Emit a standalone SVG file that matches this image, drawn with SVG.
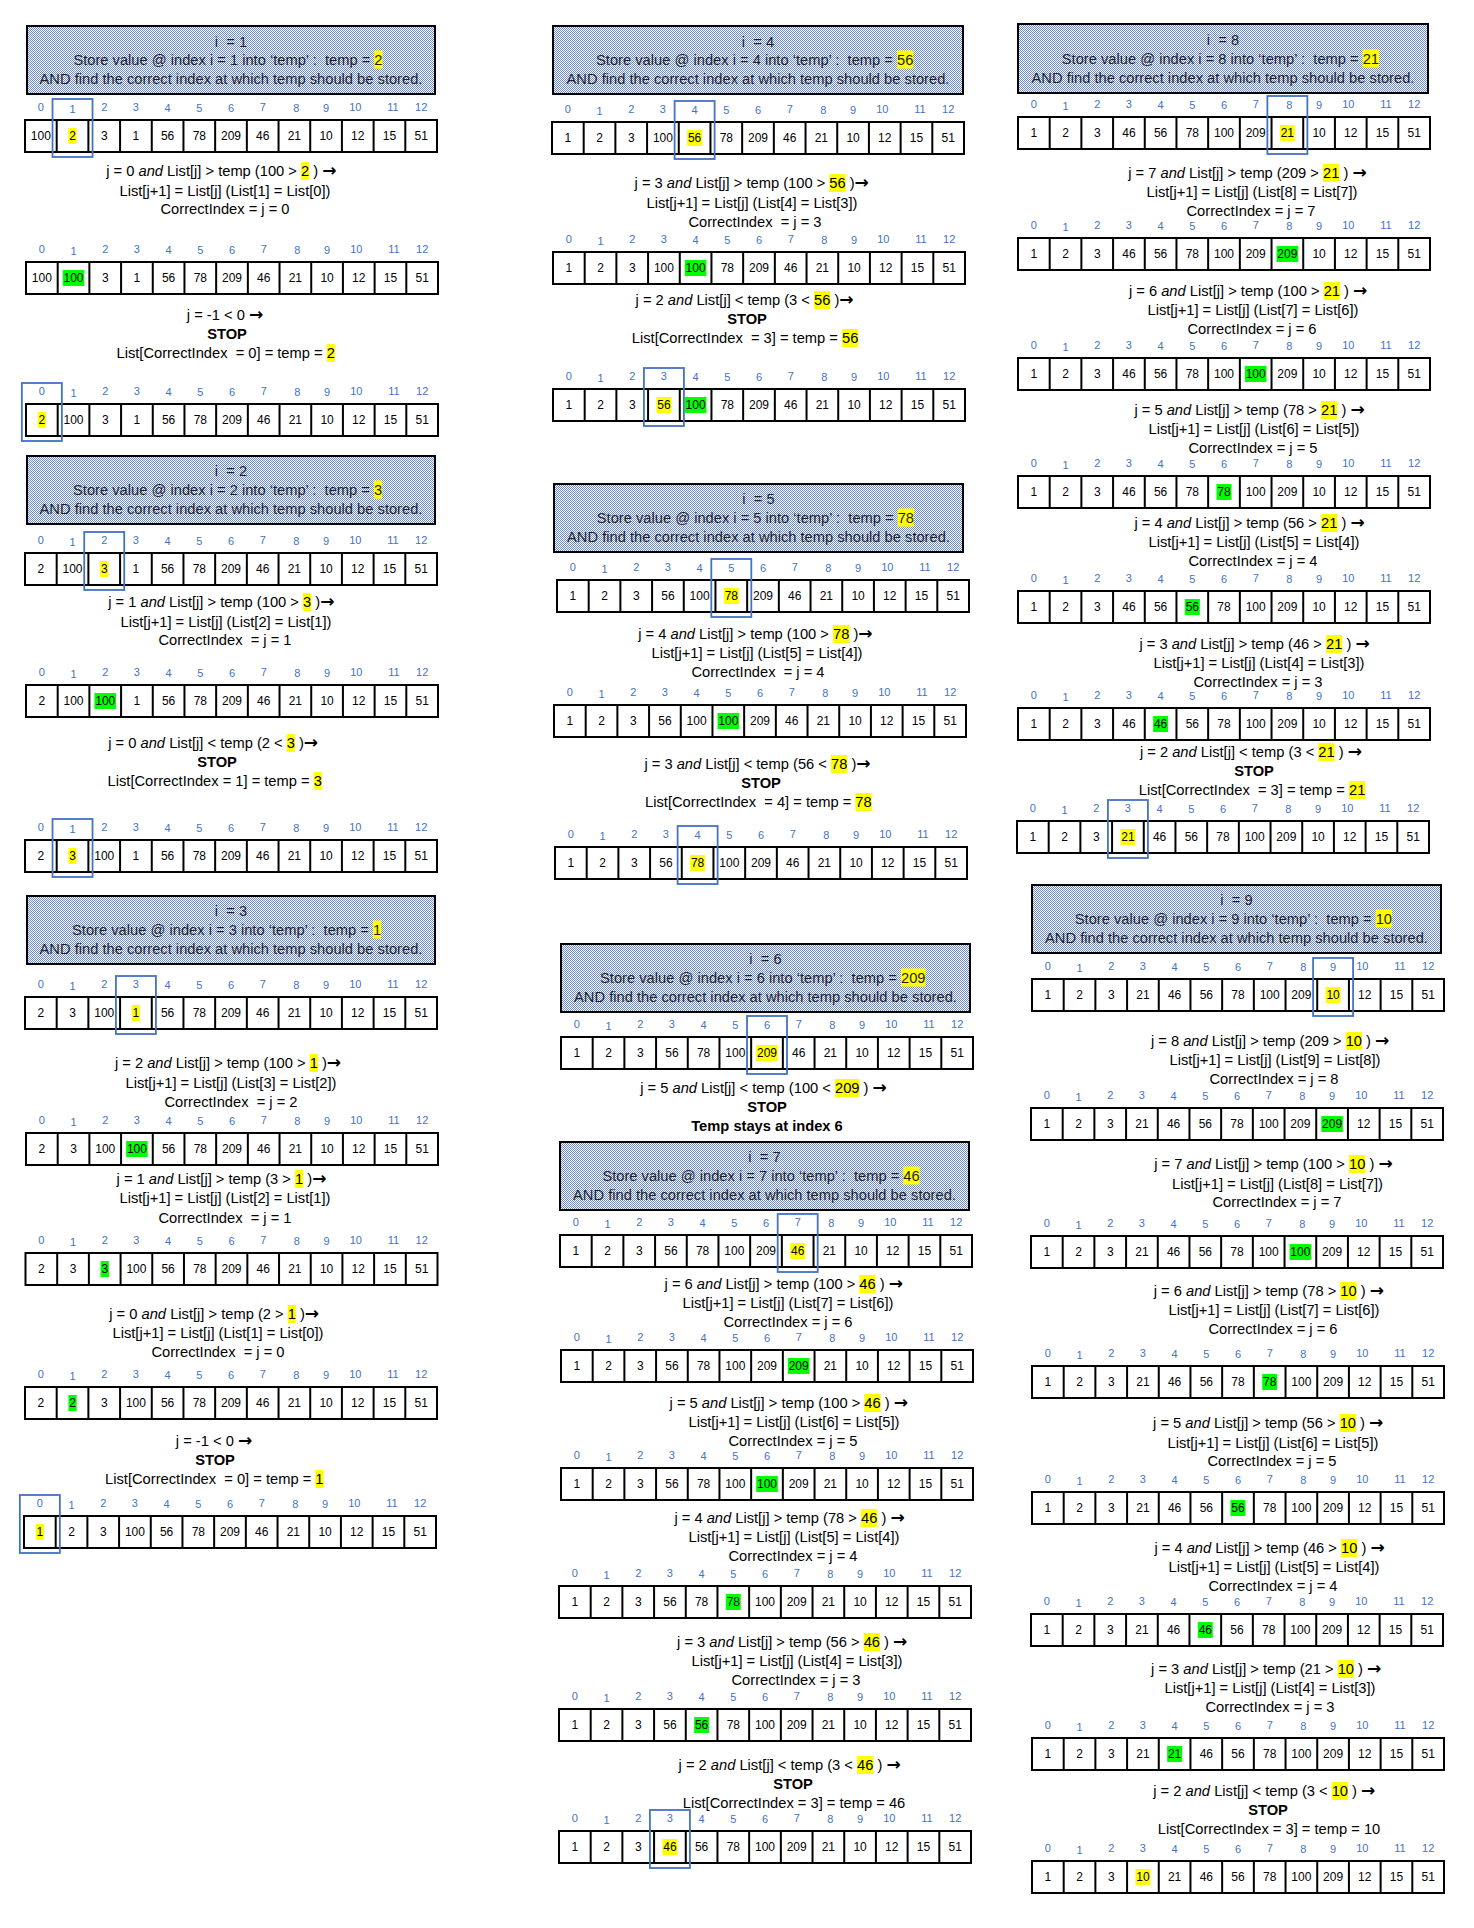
<svg xmlns="http://www.w3.org/2000/svg" width="1474" height="1928" viewBox="0 0 1474 1928">
<style>
.t{font-family:"Liberation Sans",Arial,sans-serif;font-size:14.7px;fill:#000;white-space:pre}
.h{font-family:"Liberation Sans",Arial,sans-serif;font-size:14.7px;fill:#1e1e1e;white-space:pre}
.c{text-anchor:middle}
.e{text-anchor:end}
.b{font-weight:bold}
.i{font-style:italic}
.ar{font-family:"DejaVu Sans",sans-serif;font-weight:bold;font-size:17px}
.v{font-family:"Liberation Sans",Arial,sans-serif;font-size:12px;fill:#000;text-anchor:middle}
.hy{fill:#FFFF00}
.hg{fill:#00FF00}
.box{fill:none;stroke:#4472C4;stroke-width:1.8}
.hdr{fill:url(#dots);stroke:#000;stroke-width:2}
</style>
<defs>
<pattern id="dots" width="2" height="2" patternUnits="userSpaceOnUse"><rect width="2" height="2" fill="#fff"/><rect width="1" height="1" fill="#6A8BD3"/><rect x="1" y="1" width="1" height="1" fill="#6A8BD3"/></pattern>
<g id="grid"><rect width="412" height="32" fill="#fff" stroke="#000" stroke-width="2"/><path d="M31.69 0V32M63.38 0V32M95.08 0V32M126.77 0V32M158.46 0V32M190.15 0V32M221.85 0V32M253.54 0V32M285.23 0V32M316.92 0V32M348.62 0V32M380.31 0V32" stroke="#000" stroke-width="2" fill="none"/></g>
<g id="idx"><text font-family="'Liberation Sans', Arial, sans-serif" font-size="11" fill="#4472C4" text-anchor="middle" y="-9"><tspan x="15.85" y="-9">0</tspan><tspan x="47.54" y="-7.5">1</tspan><tspan x="79.23" y="-9">2</tspan><tspan x="110.92" y="-9">3</tspan><tspan x="142.62" y="-8.5">4</tspan><tspan x="174.31" y="-8.5">5</tspan><tspan x="206" y="-8.5">6</tspan><tspan x="237.69" y="-9">7</tspan><tspan x="271.4" y="-8">8</tspan><tspan x="301.08" y="-8">9</tspan><tspan x="330.3" y="-9.5">10</tspan><tspan x="368" y="-9.5">11</tspan><tspan x="396.15" y="-9">12</tspan></text></g>
</defs>
<rect width="1474" height="1928" fill="#fff"/>
<g id="connectors"/>

<!-- ================= i = 1 ================= -->
<g id="step-i1">
<g id="i1-header"><rect class="hdr" x="27" y="26" width="408" height="68"/>
<text class="h c" x="231" y="46.7">i  = 1</text>
<rect class="hy" x="374.3" y="50.5" width="8.2" height="18"/>
<text class="h e" x="374.3" y="65">Store value @ index i = 1 into ‘temp’ :  temp = </text>
<text class="h" x="374.3" y="65">2</text>
<text class="h c" x="231" y="84">AND find the correct index at which temp should be stored.</text></g>
<g id="i1-r1" transform="translate(25,120)"><use href="#grid"/><use href="#idx"/><rect class="hy" x="43.39" y="8" width="8.3" height="16"/><text class="v" y="20.3"><tspan x="15.85">100</tspan><tspan x="47.54">2</tspan><tspan x="79.23">3</tspan><tspan x="110.92">1</tspan><tspan x="142.62">56</tspan><tspan x="174.31">78</tspan><tspan x="206">209</tspan><tspan x="237.69">46</tspan><tspan x="269.38">21</tspan><tspan x="301.08">10</tspan><tspan x="332.77">12</tspan><tspan x="364.46">15</tspan><tspan x="396.15">51</tspan></text><rect class="box" x="27.54" y="-21" width="40" height="58"/></g>
<rect class="hy" x="301" y="162" width="8.2" height="18"/>
<text class="t e" x="301" y="176">j = 0 <tspan class="i">and</tspan> List[j] &gt; temp (100 &gt; </text>
<text class="t" x="301" y="176">2 ) <tspan class="ar">→</tspan></text>
<text class="t c" x="225" y="196">List[j+1] = List[j] (List[1] = List[0])</text>
<text class="t c" x="225" y="214">CorrectIndex = j = 0</text>
<g id="i1-r2" transform="translate(26,262)"><use href="#grid"/><use href="#idx"/><rect class="hg" x="36.74" y="8" width="21.6" height="16"/><text class="v" y="20.3"><tspan x="15.85">100</tspan><tspan x="47.54">100</tspan><tspan x="79.23">3</tspan><tspan x="110.92">1</tspan><tspan x="142.62">56</tspan><tspan x="174.31">78</tspan><tspan x="206">209</tspan><tspan x="237.69">46</tspan><tspan x="269.38">21</tspan><tspan x="301.08">10</tspan><tspan x="332.77">12</tspan><tspan x="364.46">15</tspan><tspan x="396.15">51</tspan></text></g>
<text class="t c" x="225" y="320">j = -1 &lt; 0 <tspan class="ar">→</tspan></text>
<text class="t c b" x="227" y="339">STOP</text>
<rect class="hy" x="326.7" y="344" width="8.2" height="18"/>
<text class="t e" x="326.7" y="358">List[CorrectIndex  = 0] = temp = </text>
<text class="t" x="326.7" y="358">2</text>
<g id="i1-r3" transform="translate(26,404)"><use href="#grid"/><use href="#idx"/><rect class="hy" x="11.7" y="8" width="8.3" height="16"/><text class="v" y="20.3"><tspan x="15.85">2</tspan><tspan x="47.54">100</tspan><tspan x="79.23">3</tspan><tspan x="110.92">1</tspan><tspan x="142.62">56</tspan><tspan x="174.31">78</tspan><tspan x="206">209</tspan><tspan x="237.69">46</tspan><tspan x="269.38">21</tspan><tspan x="301.08">10</tspan><tspan x="332.77">12</tspan><tspan x="364.46">15</tspan><tspan x="396.15">51</tspan></text><rect class="box" x="-4.15" y="-21" width="40" height="58"/></g>
</g>

<!-- ================= i = 2 ================= -->
<g id="step-i2">
<g id="i2-header"><rect class="hdr" x="27" y="456" width="408" height="68"/>
<text class="h c" x="231" y="476">i  = 2</text>
<rect class="hy" x="374" y="480.5" width="8.2" height="18"/>
<text class="h e" x="374" y="495">Store value @ index i = 2 into ‘temp’ :  temp = </text>
<text class="h" x="374" y="495">3</text>
<text class="h c" x="231" y="514">AND find the correct index at which temp should be stored.</text></g>
<g id="i2-r1" transform="translate(25,553)"><use href="#grid"/><use href="#idx"/><rect class="hy" x="75.08" y="8" width="8.3" height="16"/><text class="v" y="20.3"><tspan x="15.85">2</tspan><tspan x="47.54">100</tspan><tspan x="79.23">3</tspan><tspan x="110.92">1</tspan><tspan x="142.62">56</tspan><tspan x="174.31">78</tspan><tspan x="206">209</tspan><tspan x="237.69">46</tspan><tspan x="269.38">21</tspan><tspan x="301.08">10</tspan><tspan x="332.77">12</tspan><tspan x="364.46">15</tspan><tspan x="396.15">51</tspan></text><rect class="box" x="59.23" y="-21" width="40" height="58"/></g>
<rect class="hy" x="303" y="593" width="8.2" height="18"/>
<text class="t e" x="303" y="607">j = 1 <tspan class="i">and</tspan> List[j] &gt; temp (100 &gt; </text>
<text class="t" x="303" y="607">3 )<tspan class="ar">→</tspan></text>
<text class="t c" x="226" y="627">List[j+1] = List[j] (List[2] = List[1])</text>
<text class="t c" x="225" y="645">CorrectIndex  = j = 1</text>
<g id="i2-r2" transform="translate(26,685)"><use href="#grid"/><use href="#idx"/><rect class="hg" x="68.43" y="8" width="21.6" height="16"/><text class="v" y="20.3"><tspan x="15.85">2</tspan><tspan x="47.54">100</tspan><tspan x="79.23">100</tspan><tspan x="110.92">1</tspan><tspan x="142.62">56</tspan><tspan x="174.31">78</tspan><tspan x="206">209</tspan><tspan x="237.69">46</tspan><tspan x="269.38">21</tspan><tspan x="301.08">10</tspan><tspan x="332.77">12</tspan><tspan x="364.46">15</tspan><tspan x="396.15">51</tspan></text></g>
<rect class="hy" x="286.7" y="734" width="8.2" height="18"/>
<text class="t e" x="286.7" y="748">j = 0 <tspan class="i">and</tspan> List[j] &lt; temp (2 &lt; </text>
<text class="t" x="286.7" y="748">3 )<tspan class="ar">→</tspan></text>
<text class="t c b" x="217" y="767">STOP</text>
<rect class="hy" x="313.7" y="772" width="8.2" height="18"/>
<text class="t e" x="313.7" y="786">List[CorrectIndex = 1] = temp = </text>
<text class="t" x="313.7" y="786">3</text>
<g id="i2-r3" transform="translate(25,840)"><use href="#grid"/><use href="#idx"/><rect class="hy" x="43.39" y="8" width="8.3" height="16"/><text class="v" y="20.3"><tspan x="15.85">2</tspan><tspan x="47.54">3</tspan><tspan x="79.23">100</tspan><tspan x="110.92">1</tspan><tspan x="142.62">56</tspan><tspan x="174.31">78</tspan><tspan x="206">209</tspan><tspan x="237.69">46</tspan><tspan x="269.38">21</tspan><tspan x="301.08">10</tspan><tspan x="332.77">12</tspan><tspan x="364.46">15</tspan><tspan x="396.15">51</tspan></text><rect class="box" x="27.54" y="-21" width="40" height="58"/></g>
</g>

<!-- ================= i = 3 ================= -->
<g id="step-i3">
<g id="i3-header"><rect class="hdr" x="27" y="896" width="408" height="68"/>
<text class="h c" x="231" y="916">i  = 3</text>
<rect class="hy" x="373" y="920.5" width="8.2" height="18"/>
<text class="h e" x="373" y="935">Store value @ index i = 3 into ‘temp’ :  temp = </text>
<text class="h" x="373" y="935">1</text>
<text class="h c" x="231" y="954">AND find the correct index at which temp should be stored.</text></g>
<g id="i3-r1" transform="translate(25,997)"><use href="#grid"/><use href="#idx"/><rect class="hy" x="106.77" y="8" width="8.3" height="16"/><text class="v" y="20.3"><tspan x="15.85">2</tspan><tspan x="47.54">3</tspan><tspan x="79.23">100</tspan><tspan x="110.92">1</tspan><tspan x="142.62">56</tspan><tspan x="174.31">78</tspan><tspan x="206">209</tspan><tspan x="237.69">46</tspan><tspan x="269.38">21</tspan><tspan x="301.08">10</tspan><tspan x="332.77">12</tspan><tspan x="364.46">15</tspan><tspan x="396.15">51</tspan></text><rect class="box" x="90.92" y="-21" width="40" height="58"/></g>
<rect class="hy" x="309.7" y="1054" width="8.2" height="18"/>
<text class="t e" x="309.7" y="1068">j = 2 <tspan class="i">and</tspan> List[j] &gt; temp (100 &gt; </text>
<text class="t" x="309.7" y="1068">1 )<tspan class="ar">→</tspan></text>
<text class="t c" x="231" y="1088">List[j+1] = List[j] (List[3] = List[2])</text>
<text class="t c" x="231" y="1107">CorrectIndex  = j = 2</text>
<g id="i3-r2" transform="translate(26,1133)"><use href="#grid"/><use href="#idx"/><rect class="hg" x="100.12" y="8" width="21.6" height="16"/><text class="v" y="20.3"><tspan x="15.85">2</tspan><tspan x="47.54">3</tspan><tspan x="79.23">100</tspan><tspan x="110.92">100</tspan><tspan x="142.62">56</tspan><tspan x="174.31">78</tspan><tspan x="206">209</tspan><tspan x="237.69">46</tspan><tspan x="269.38">21</tspan><tspan x="301.08">10</tspan><tspan x="332.77">12</tspan><tspan x="364.46">15</tspan><tspan x="396.15">51</tspan></text></g>
<rect class="hy" x="295" y="1170" width="8.2" height="18"/>
<text class="t e" x="295" y="1184">j = 1 <tspan class="i">and</tspan> List[j] &gt; temp (3 &gt; </text>
<text class="t" x="295" y="1184">1 )<tspan class="ar">→</tspan></text>
<text class="t c" x="225" y="1203">List[j+1] = List[j] (List[2] = List[1])</text>
<text class="t c" x="225" y="1223">CorrectIndex  = j = 1</text>
<g id="i3-r3" transform="translate(25.5,1253)"><use href="#grid"/><use href="#idx"/><rect class="hg" x="75.08" y="8" width="8.3" height="16"/><text class="v" y="20.3"><tspan x="15.85">2</tspan><tspan x="47.54">3</tspan><tspan x="79.23">3</tspan><tspan x="110.92">100</tspan><tspan x="142.62">56</tspan><tspan x="174.31">78</tspan><tspan x="206">209</tspan><tspan x="237.69">46</tspan><tspan x="269.38">21</tspan><tspan x="301.08">10</tspan><tspan x="332.77">12</tspan><tspan x="364.46">15</tspan><tspan x="396.15">51</tspan></text></g>
<rect class="hy" x="287.7" y="1305" width="8.2" height="18"/>
<text class="t e" x="287.7" y="1319">j = 0 <tspan class="i">and</tspan> List[j] &gt; temp (2 &gt; </text>
<text class="t" x="287.7" y="1319">1 )<tspan class="ar">→</tspan></text>
<text class="t c" x="218" y="1338">List[j+1] = List[j] (List[1] = List[0])</text>
<text class="t c" x="218" y="1357">CorrectIndex  = j = 0</text>
<g id="i3-r4" transform="translate(25,1387)"><use href="#grid"/><use href="#idx"/><rect class="hg" x="43.39" y="8" width="8.3" height="16"/><text class="v" y="20.3"><tspan x="15.85">2</tspan><tspan x="47.54">2</tspan><tspan x="79.23">3</tspan><tspan x="110.92">100</tspan><tspan x="142.62">56</tspan><tspan x="174.31">78</tspan><tspan x="206">209</tspan><tspan x="237.69">46</tspan><tspan x="269.38">21</tspan><tspan x="301.08">10</tspan><tspan x="332.77">12</tspan><tspan x="364.46">15</tspan><tspan x="396.15">51</tspan></text></g>
<text class="t c" x="214" y="1446">j = -1 &lt; 0 <tspan class="ar">→</tspan></text>
<text class="t c b" x="215" y="1465">STOP</text>
<rect class="hy" x="315.3" y="1470" width="8.2" height="18"/>
<text class="t e" x="315.3" y="1484">List[CorrectIndex  = 0] = temp = </text>
<text class="t" x="315.3" y="1484">1</text>
<g id="i3-r5" transform="translate(24,1516)"><use href="#grid"/><use href="#idx"/><rect class="hy" x="11.7" y="8" width="8.3" height="16"/><text class="v" y="20.3"><tspan x="15.85">1</tspan><tspan x="47.54">2</tspan><tspan x="79.23">3</tspan><tspan x="110.92">100</tspan><tspan x="142.62">56</tspan><tspan x="174.31">78</tspan><tspan x="206">209</tspan><tspan x="237.69">46</tspan><tspan x="269.38">21</tspan><tspan x="301.08">10</tspan><tspan x="332.77">12</tspan><tspan x="364.46">15</tspan><tspan x="396.15">51</tspan></text><rect class="box" x="-4.15" y="-21" width="40" height="58"/></g>
</g>

<!-- ================= i = 4 ================= -->
<g id="step-i4">
<g id="i4-header"><rect class="hdr" x="553" y="26" width="410" height="68"/>
<text class="h c" x="758" y="46.7">i  = 4</text>
<rect class="hy" x="897" y="50.5" width="16.3" height="18"/>
<text class="h e" x="897" y="65">Store value @ index i = 4 into ‘temp’ :  temp = </text>
<text class="h" x="897" y="65">56</text>
<text class="h c" x="758" y="84">AND find the correct index at which temp should be stored.</text></g>
<g id="i4-r1" transform="translate(552,122)"><use href="#grid"/><use href="#idx"/><rect class="hy" x="135.12" y="8" width="15" height="16"/><text class="v" y="20.3"><tspan x="15.85">1</tspan><tspan x="47.54">2</tspan><tspan x="79.23">3</tspan><tspan x="110.92">100</tspan><tspan x="142.62">56</tspan><tspan x="174.31">78</tspan><tspan x="206">209</tspan><tspan x="237.69">46</tspan><tspan x="269.38">21</tspan><tspan x="301.08">10</tspan><tspan x="332.77">12</tspan><tspan x="364.46">15</tspan><tspan x="396.15">51</tspan></text><rect class="box" x="122.62" y="-21" width="40" height="58"/></g>
<rect class="hy" x="829.3" y="174" width="16.3" height="18"/>
<text class="t e" x="829.3" y="188">j = 3 <tspan class="i">and</tspan> List[j] &gt; temp (100 &gt; </text>
<text class="t" x="829.3" y="188">56 )<tspan class="ar">→</tspan></text>
<text class="t c" x="752" y="208">List[j+1] = List[j] (List[4] = List[3])</text>
<text class="t c" x="755" y="227">CorrectIndex  = j = 3</text>
<g id="i4-r2" transform="translate(553,252)"><use href="#grid"/><use href="#idx"/><rect class="hg" x="131.82" y="8" width="21.6" height="16"/><text class="v" y="20.3"><tspan x="15.85">1</tspan><tspan x="47.54">2</tspan><tspan x="79.23">3</tspan><tspan x="110.92">100</tspan><tspan x="142.62">100</tspan><tspan x="174.31">78</tspan><tspan x="206">209</tspan><tspan x="237.69">46</tspan><tspan x="269.38">21</tspan><tspan x="301.08">10</tspan><tspan x="332.77">12</tspan><tspan x="364.46">15</tspan><tspan x="396.15">51</tspan></text></g>
<rect class="hy" x="814" y="291" width="16.3" height="18"/>
<text class="t e" x="814" y="305">j = 2 <tspan class="i">and</tspan> List[j] &lt; temp (3 &lt; </text>
<text class="t" x="814" y="305">56 )<tspan class="ar">→</tspan></text>
<text class="t c b" x="747" y="324">STOP</text>
<rect class="hy" x="842" y="329" width="16.3" height="18"/>
<text class="t e" x="842" y="343">List[CorrectIndex  = 3] = temp = </text>
<text class="t" x="842" y="343">56</text>
<g id="i4-r3" transform="translate(553,389)"><use href="#grid"/><use href="#idx"/><rect class="hy" x="103.42" y="8" width="15" height="16"/><rect class="hg" x="131.82" y="8" width="21.6" height="16"/><text class="v" y="20.3"><tspan x="15.85">1</tspan><tspan x="47.54">2</tspan><tspan x="79.23">3</tspan><tspan x="110.92">56</tspan><tspan x="142.62">100</tspan><tspan x="174.31">78</tspan><tspan x="206">209</tspan><tspan x="237.69">46</tspan><tspan x="269.38">21</tspan><tspan x="301.08">10</tspan><tspan x="332.77">12</tspan><tspan x="364.46">15</tspan><tspan x="396.15">51</tspan></text><rect class="box" x="90.92" y="-21" width="40" height="58"/></g>
</g>

<!-- ================= i = 5 ================= -->
<g id="step-i5">
<g id="i5-header"><rect class="hdr" x="554" y="484" width="409" height="68"/>
<text class="h c" x="758.5" y="504">i  = 5</text>
<rect class="hy" x="897.7" y="508.5" width="16.3" height="18"/>
<text class="h e" x="897.7" y="523">Store value @ index i = 5 into ‘temp’ :  temp = </text>
<text class="h" x="897.7" y="523">78</text>
<text class="h c" x="758.5" y="542">AND find the correct index at which temp should be stored.</text></g>
<g id="i5-r1" transform="translate(557,580)"><use href="#grid"/><use href="#idx"/><rect class="hy" x="166.81" y="8" width="15" height="16"/><text class="v" y="20.3"><tspan x="15.85">1</tspan><tspan x="47.54">2</tspan><tspan x="79.23">3</tspan><tspan x="110.92">56</tspan><tspan x="142.62">100</tspan><tspan x="174.31">78</tspan><tspan x="206">209</tspan><tspan x="237.69">46</tspan><tspan x="269.38">21</tspan><tspan x="301.08">10</tspan><tspan x="332.77">12</tspan><tspan x="364.46">15</tspan><tspan x="396.15">51</tspan></text><rect class="box" x="154.31" y="-21" width="40" height="58"/></g>
<rect class="hy" x="833" y="625" width="16.3" height="18"/>
<text class="t e" x="833" y="639">j = 4 <tspan class="i">and</tspan> List[j] &gt; temp (100 &gt; </text>
<text class="t" x="833" y="639">78 )<tspan class="ar">→</tspan></text>
<text class="t c" x="757" y="658">List[j+1] = List[j] (List[5] = List[4])</text>
<text class="t c" x="758" y="677">CorrectIndex  = j = 4</text>
<g id="i5-r2" transform="translate(554,705)"><use href="#grid"/><use href="#idx"/><rect class="hg" x="163.51" y="8" width="21.6" height="16"/><text class="v" y="20.3"><tspan x="15.85">1</tspan><tspan x="47.54">2</tspan><tspan x="79.23">3</tspan><tspan x="110.92">56</tspan><tspan x="142.62">100</tspan><tspan x="174.31">100</tspan><tspan x="206">209</tspan><tspan x="237.69">46</tspan><tspan x="269.38">21</tspan><tspan x="301.08">10</tspan><tspan x="332.77">12</tspan><tspan x="364.46">15</tspan><tspan x="396.15">51</tspan></text></g>
<rect class="hy" x="831" y="755" width="16.3" height="18"/>
<text class="t e" x="831" y="769">j = 3 <tspan class="i">and</tspan> List[j] &lt; temp (56 &lt; </text>
<text class="t" x="831" y="769">78 )<tspan class="ar">→</tspan></text>
<text class="t c b" x="761" y="788">STOP</text>
<rect class="hy" x="855.3" y="793" width="16.3" height="18"/>
<text class="t e" x="855.3" y="807">List[CorrectIndex  = 4] = temp = </text>
<text class="t" x="855.3" y="807">78</text>
<g id="i5-r3" transform="translate(555,847)"><use href="#grid"/><use href="#idx"/><rect class="hy" x="135.12" y="8" width="15" height="16"/><text class="v" y="20.3"><tspan x="15.85">1</tspan><tspan x="47.54">2</tspan><tspan x="79.23">3</tspan><tspan x="110.92">56</tspan><tspan x="142.62">78</tspan><tspan x="174.31">100</tspan><tspan x="206">209</tspan><tspan x="237.69">46</tspan><tspan x="269.38">21</tspan><tspan x="301.08">10</tspan><tspan x="332.77">12</tspan><tspan x="364.46">15</tspan><tspan x="396.15">51</tspan></text><rect class="box" x="122.62" y="-21" width="40" height="58"/></g>
</g>

<!-- ================= i = 6 ================= -->
<g id="step-i6">
<g id="i6-header"><rect class="hdr" x="561" y="944" width="409" height="68"/>
<text class="h c" x="765.5" y="964">i  = 6</text>
<rect class="hy" x="901" y="968.5" width="24.5" height="18"/>
<text class="h e" x="901" y="983">Store value @ index i = 6 into ‘temp’ :  temp = </text>
<text class="h" x="901" y="983">209</text>
<text class="h c" x="765.5" y="1002">AND find the correct index at which temp should be stored.</text></g>
<g id="i6-r1" transform="translate(561,1037)"><use href="#grid"/><use href="#idx"/><rect class="hy" x="195.2" y="8" width="21.6" height="16"/><text class="v" y="20.3"><tspan x="15.85">1</tspan><tspan x="47.54">2</tspan><tspan x="79.23">3</tspan><tspan x="110.92">56</tspan><tspan x="142.62">78</tspan><tspan x="174.31">100</tspan><tspan x="206">209</tspan><tspan x="237.69">46</tspan><tspan x="269.38">21</tspan><tspan x="301.08">10</tspan><tspan x="332.77">12</tspan><tspan x="364.46">15</tspan><tspan x="396.15">51</tspan></text><rect class="box" x="186" y="-21" width="40" height="58"/></g>
<rect class="hy" x="835" y="1079" width="24.5" height="18"/>
<text class="t e" x="835" y="1093">j = 5 <tspan class="i">and</tspan> List[j] &lt; temp (100 &lt; </text>
<text class="t" x="835" y="1093">209 ) <tspan class="ar">→</tspan></text>
<text class="t c b" x="767" y="1112">STOP</text>
<text class="t c b" x="767" y="1131">Temp stays at index 6</text>
</g>

<!-- ================= i = 7 ================= -->
<g id="step-i7">
<g id="i7-header"><rect class="hdr" x="560" y="1142" width="409" height="68"/>
<text class="h c" x="764.5" y="1162">i  = 7</text>
<rect class="hy" x="903.3" y="1166.5" width="16.3" height="18"/>
<text class="h e" x="903.3" y="1181">Store value @ index i = 7 into ‘temp’ :  temp = </text>
<text class="h" x="903.3" y="1181">46</text>
<text class="h c" x="764.5" y="1200">AND find the correct index at which temp should be stored.</text></g>
<g id="i7-r1" transform="translate(560,1235)"><use href="#grid"/><use href="#idx"/><rect class="hy" x="230.19" y="8" width="15" height="16"/><text class="v" y="20.3"><tspan x="15.85">1</tspan><tspan x="47.54">2</tspan><tspan x="79.23">3</tspan><tspan x="110.92">56</tspan><tspan x="142.62">78</tspan><tspan x="174.31">100</tspan><tspan x="206">209</tspan><tspan x="237.69">46</tspan><tspan x="269.38">21</tspan><tspan x="301.08">10</tspan><tspan x="332.77">12</tspan><tspan x="364.46">15</tspan><tspan x="396.15">51</tspan></text><rect class="box" x="217.69" y="-21" width="40" height="58"/></g>
<rect class="hy" x="859.3" y="1275" width="16.3" height="18"/>
<text class="t e" x="859.3" y="1289">j = 6 <tspan class="i">and</tspan> List[j] &gt; temp (100 &gt; </text>
<text class="t" x="859.3" y="1289">46 ) <tspan class="ar">→</tspan></text>
<text class="t c" x="788" y="1308">List[j+1] = List[j] (List[7] = List[6])</text>
<text class="t c" x="788" y="1327">CorrectIndex = j = 6</text>
<g id="i7-r2" transform="translate(561,1350)"><use href="#grid"/><use href="#idx"/><rect class="hg" x="226.89" y="8" width="21.6" height="16"/><text class="v" y="20.3"><tspan x="15.85">1</tspan><tspan x="47.54">2</tspan><tspan x="79.23">3</tspan><tspan x="110.92">56</tspan><tspan x="142.62">78</tspan><tspan x="174.31">100</tspan><tspan x="206">209</tspan><tspan x="237.69">209</tspan><tspan x="269.38">21</tspan><tspan x="301.08">10</tspan><tspan x="332.77">12</tspan><tspan x="364.46">15</tspan><tspan x="396.15">51</tspan></text></g>
<rect class="hy" x="864.3" y="1394" width="16.3" height="18"/>
<text class="t e" x="864.3" y="1408">j = 5 <tspan class="i">and</tspan> List[j] &gt; temp (100 &gt; </text>
<text class="t" x="864.3" y="1408">46 ) <tspan class="ar">→</tspan></text>
<text class="t c" x="794" y="1427">List[j+1] = List[j] (List[6] = List[5])</text>
<text class="t c" x="793" y="1446">CorrectIndex = j = 5</text>
<g id="i7-r3" transform="translate(561,1468)"><use href="#grid"/><use href="#idx"/><rect class="hg" x="195.2" y="8" width="21.6" height="16"/><text class="v" y="20.3"><tspan x="15.85">1</tspan><tspan x="47.54">2</tspan><tspan x="79.23">3</tspan><tspan x="110.92">56</tspan><tspan x="142.62">78</tspan><tspan x="174.31">100</tspan><tspan x="206">100</tspan><tspan x="237.69">209</tspan><tspan x="269.38">21</tspan><tspan x="301.08">10</tspan><tspan x="332.77">12</tspan><tspan x="364.46">15</tspan><tspan x="396.15">51</tspan></text></g>
<rect class="hy" x="861" y="1509" width="16.3" height="18"/>
<text class="t e" x="861" y="1523">j = 4 <tspan class="i">and</tspan> List[j] &gt; temp (78 &gt; </text>
<text class="t" x="861" y="1523">46 ) <tspan class="ar">→</tspan></text>
<text class="t c" x="794" y="1542">List[j+1] = List[j] (List[5] = List[4])</text>
<text class="t c" x="793" y="1561">CorrectIndex = j = 4</text>
<g id="i7-r4" transform="translate(559,1586)"><use href="#grid"/><use href="#idx"/><rect class="hg" x="166.81" y="8" width="15" height="16"/><text class="v" y="20.3"><tspan x="15.85">1</tspan><tspan x="47.54">2</tspan><tspan x="79.23">3</tspan><tspan x="110.92">56</tspan><tspan x="142.62">78</tspan><tspan x="174.31">78</tspan><tspan x="206">100</tspan><tspan x="237.69">209</tspan><tspan x="269.38">21</tspan><tspan x="301.08">10</tspan><tspan x="332.77">12</tspan><tspan x="364.46">15</tspan><tspan x="396.15">51</tspan></text></g>
<rect class="hy" x="863.7" y="1633" width="16.3" height="18"/>
<text class="t e" x="863.7" y="1647">j = 3 <tspan class="i">and</tspan> List[j] &gt; temp (56 &gt; </text>
<text class="t" x="863.7" y="1647">46 ) <tspan class="ar">→</tspan></text>
<text class="t c" x="797" y="1666">List[j+1] = List[j] (List[4] = List[3])</text>
<text class="t c" x="796" y="1685">CorrectIndex = j = 3</text>
<g id="i7-r5" transform="translate(559,1709)"><use href="#grid"/><use href="#idx"/><rect class="hg" x="135.12" y="8" width="15" height="16"/><text class="v" y="20.3"><tspan x="15.85">1</tspan><tspan x="47.54">2</tspan><tspan x="79.23">3</tspan><tspan x="110.92">56</tspan><tspan x="142.62">56</tspan><tspan x="174.31">78</tspan><tspan x="206">100</tspan><tspan x="237.69">209</tspan><tspan x="269.38">21</tspan><tspan x="301.08">10</tspan><tspan x="332.77">12</tspan><tspan x="364.46">15</tspan><tspan x="396.15">51</tspan></text></g>
<rect class="hy" x="857" y="1756" width="16.3" height="18"/>
<text class="t e" x="857" y="1770">j = 2 <tspan class="i">and</tspan> List[j] &lt; temp (3 &lt; </text>
<text class="t" x="857" y="1770">46 ) <tspan class="ar">→</tspan></text>
<text class="t c b" x="793" y="1789">STOP</text>
<text class="t c" x="794" y="1808">List[CorrectIndex = 3] = temp = 46</text>
<g id="i7-r6" transform="translate(559,1831)"><use href="#grid"/><use href="#idx"/><rect class="hy" x="103.42" y="8" width="15" height="16"/><text class="v" y="20.3"><tspan x="15.85">1</tspan><tspan x="47.54">2</tspan><tspan x="79.23">3</tspan><tspan x="110.92">46</tspan><tspan x="142.62">56</tspan><tspan x="174.31">78</tspan><tspan x="206">100</tspan><tspan x="237.69">209</tspan><tspan x="269.38">21</tspan><tspan x="301.08">10</tspan><tspan x="332.77">12</tspan><tspan x="364.46">15</tspan><tspan x="396.15">51</tspan></text><rect class="box" x="90.92" y="-21" width="40" height="58"/></g>
</g>

<!-- ================= i = 8 ================= -->
<g id="step-i8">
<g id="i8-header"><rect class="hdr" x="1018" y="24" width="410" height="69"/>
<text class="h c" x="1223" y="45">i  = 8</text>
<rect class="hy" x="1362.7" y="49.5" width="16.3" height="18"/>
<text class="h e" x="1362.7" y="64">Store value @ index i = 8 into ‘temp’ :  temp = </text>
<text class="h" x="1362.7" y="64">21</text>
<text class="h c" x="1223" y="83">AND find the correct index at which temp should be stored.</text></g>
<g id="i8-r1" transform="translate(1018,117)"><use href="#grid"/><use href="#idx"/><rect class="hy" x="261.88" y="8" width="15" height="16"/><text class="v" y="20.3"><tspan x="15.85">1</tspan><tspan x="47.54">2</tspan><tspan x="79.23">3</tspan><tspan x="110.92">46</tspan><tspan x="142.62">56</tspan><tspan x="174.31">78</tspan><tspan x="206">100</tspan><tspan x="237.69">209</tspan><tspan x="269.38">21</tspan><tspan x="301.08">10</tspan><tspan x="332.77">12</tspan><tspan x="364.46">15</tspan><tspan x="396.15">51</tspan></text><rect class="box" x="249.38" y="-21" width="40" height="58"/></g>
<rect class="hy" x="1323" y="164" width="16.3" height="18"/>
<text class="t e" x="1323" y="178">j = 7 <tspan class="i">and</tspan> List[j] &gt; temp (209 &gt; </text>
<text class="t" x="1323" y="178">21 ) <tspan class="ar">→</tspan></text>
<text class="t c" x="1252" y="197">List[j+1] = List[j] (List[8] = List[7])</text>
<text class="t c" x="1251" y="216">CorrectIndex = j = 7</text>
<g id="i8-r2" transform="translate(1018,238)"><use href="#grid"/><use href="#idx"/><rect class="hg" x="258.58" y="8" width="21.6" height="16"/><text class="v" y="20.3"><tspan x="15.85">1</tspan><tspan x="47.54">2</tspan><tspan x="79.23">3</tspan><tspan x="110.92">46</tspan><tspan x="142.62">56</tspan><tspan x="174.31">78</tspan><tspan x="206">100</tspan><tspan x="237.69">209</tspan><tspan x="269.38">209</tspan><tspan x="301.08">10</tspan><tspan x="332.77">12</tspan><tspan x="364.46">15</tspan><tspan x="396.15">51</tspan></text></g>
<rect class="hy" x="1323.7" y="282" width="16.3" height="18"/>
<text class="t e" x="1323.7" y="296">j = 6 <tspan class="i">and</tspan> List[j] &gt; temp (100 &gt; </text>
<text class="t" x="1323.7" y="296">21 ) <tspan class="ar">→</tspan></text>
<text class="t c" x="1253" y="315">List[j+1] = List[j] (List[7] = List[6])</text>
<text class="t c" x="1252" y="334">CorrectIndex = j = 6</text>
<g id="i8-r3" transform="translate(1018,358)"><use href="#grid"/><use href="#idx"/><rect class="hg" x="226.89" y="8" width="21.6" height="16"/><text class="v" y="20.3"><tspan x="15.85">1</tspan><tspan x="47.54">2</tspan><tspan x="79.23">3</tspan><tspan x="110.92">46</tspan><tspan x="142.62">56</tspan><tspan x="174.31">78</tspan><tspan x="206">100</tspan><tspan x="237.69">100</tspan><tspan x="269.38">209</tspan><tspan x="301.08">10</tspan><tspan x="332.77">12</tspan><tspan x="364.46">15</tspan><tspan x="396.15">51</tspan></text></g>
<rect class="hy" x="1321" y="401" width="16.3" height="18"/>
<text class="t e" x="1321" y="415">j = 5 <tspan class="i">and</tspan> List[j] &gt; temp (78 &gt; </text>
<text class="t" x="1321" y="415">21 ) <tspan class="ar">→</tspan></text>
<text class="t c" x="1254" y="434">List[j+1] = List[j] (List[6] = List[5])</text>
<text class="t c" x="1253" y="453">CorrectIndex = j = 5</text>
<g id="i8-r4" transform="translate(1018,476)"><use href="#grid"/><use href="#idx"/><rect class="hg" x="198.5" y="8" width="15" height="16"/><text class="v" y="20.3"><tspan x="15.85">1</tspan><tspan x="47.54">2</tspan><tspan x="79.23">3</tspan><tspan x="110.92">46</tspan><tspan x="142.62">56</tspan><tspan x="174.31">78</tspan><tspan x="206">78</tspan><tspan x="237.69">100</tspan><tspan x="269.38">209</tspan><tspan x="301.08">10</tspan><tspan x="332.77">12</tspan><tspan x="364.46">15</tspan><tspan x="396.15">51</tspan></text></g>
<rect class="hy" x="1321" y="514" width="16.3" height="18"/>
<text class="t e" x="1321" y="528">j = 4 <tspan class="i">and</tspan> List[j] &gt; temp (56 &gt; </text>
<text class="t" x="1321" y="528">21 ) <tspan class="ar">→</tspan></text>
<text class="t c" x="1254" y="547">List[j+1] = List[j] (List[5] = List[4])</text>
<text class="t c" x="1253" y="566">CorrectIndex = j = 4</text>
<g id="i8-r5" transform="translate(1018,591)"><use href="#grid"/><use href="#idx"/><rect class="hg" x="166.81" y="8" width="15" height="16"/><text class="v" y="20.3"><tspan x="15.85">1</tspan><tspan x="47.54">2</tspan><tspan x="79.23">3</tspan><tspan x="110.92">46</tspan><tspan x="142.62">56</tspan><tspan x="174.31">56</tspan><tspan x="206">78</tspan><tspan x="237.69">100</tspan><tspan x="269.38">209</tspan><tspan x="301.08">10</tspan><tspan x="332.77">12</tspan><tspan x="364.46">15</tspan><tspan x="396.15">51</tspan></text></g>
<rect class="hy" x="1326" y="635" width="16.3" height="18"/>
<text class="t e" x="1326" y="649">j = 3 <tspan class="i">and</tspan> List[j] &gt; temp (46 &gt; </text>
<text class="t" x="1326" y="649">21 ) <tspan class="ar">→</tspan></text>
<text class="t c" x="1259" y="668">List[j+1] = List[j] (List[4] = List[3])</text>
<text class="t c" x="1258" y="687">CorrectIndex = j = 3</text>
<g id="i8-r6" transform="translate(1018,708)"><use href="#grid"/><use href="#idx"/><rect class="hg" x="135.12" y="8" width="15" height="16"/><text class="v" y="20.3"><tspan x="15.85">1</tspan><tspan x="47.54">2</tspan><tspan x="79.23">3</tspan><tspan x="110.92">46</tspan><tspan x="142.62">46</tspan><tspan x="174.31">56</tspan><tspan x="206">78</tspan><tspan x="237.69">100</tspan><tspan x="269.38">209</tspan><tspan x="301.08">10</tspan><tspan x="332.77">12</tspan><tspan x="364.46">15</tspan><tspan x="396.15">51</tspan></text></g>
<rect class="hy" x="1318.3" y="743" width="16.3" height="18"/>
<text class="t e" x="1318.3" y="757">j = 2 <tspan class="i">and</tspan> List[j] &lt; temp (3 &lt; </text>
<text class="t" x="1318.3" y="757">21 ) <tspan class="ar">→</tspan></text>
<text class="t c b" x="1254" y="776">STOP</text>
<rect class="hy" x="1349" y="781" width="16.3" height="18"/>
<text class="t e" x="1349" y="795">List[CorrectIndex  = 3] = temp = </text>
<text class="t" x="1349" y="795">21</text>
<g id="i8-r7" transform="translate(1017,821)"><use href="#grid"/><use href="#idx"/><rect class="hy" x="103.42" y="8" width="15" height="16"/><text class="v" y="20.3"><tspan x="15.85">1</tspan><tspan x="47.54">2</tspan><tspan x="79.23">3</tspan><tspan x="110.92">21</tspan><tspan x="142.62">46</tspan><tspan x="174.31">56</tspan><tspan x="206">78</tspan><tspan x="237.69">100</tspan><tspan x="269.38">209</tspan><tspan x="301.08">10</tspan><tspan x="332.77">12</tspan><tspan x="364.46">15</tspan><tspan x="396.15">51</tspan></text><rect class="box" x="90.92" y="-21" width="40" height="58"/></g>
</g>

<!-- ================= i = 9 ================= -->
<g id="step-i9">
<g id="i9-header"><rect class="hdr" x="1032" y="885" width="409" height="68"/>
<text class="h c" x="1236.5" y="905">i  = 9</text>
<rect class="hy" x="1375.7" y="909.5" width="16.3" height="18"/>
<text class="h e" x="1375.7" y="924">Store value @ index i = 9 into ‘temp’ :  temp = </text>
<text class="h" x="1375.7" y="924">10</text>
<text class="h c" x="1236.5" y="943">AND find the correct index at which temp should be stored.</text></g>
<g id="i9-r1" transform="translate(1032,979)"><use href="#grid"/><use href="#idx"/><rect class="hy" x="293.58" y="8" width="15" height="16"/><text class="v" y="20.3"><tspan x="15.85">1</tspan><tspan x="47.54">2</tspan><tspan x="79.23">3</tspan><tspan x="110.92">21</tspan><tspan x="142.62">46</tspan><tspan x="174.31">56</tspan><tspan x="206">78</tspan><tspan x="237.69">100</tspan><tspan x="269.38">209</tspan><tspan x="301.08">10</tspan><tspan x="332.77">12</tspan><tspan x="364.46">15</tspan><tspan x="396.15">51</tspan></text><rect class="box" x="281.08" y="-21" width="40" height="58"/></g>
<rect class="hy" x="1345.7" y="1032" width="16.3" height="18"/>
<text class="t e" x="1345.7" y="1046">j = 8 <tspan class="i">and</tspan> List[j] &gt; temp (209 &gt; </text>
<text class="t" x="1345.7" y="1046">10 ) <tspan class="ar">→</tspan></text>
<text class="t c" x="1275" y="1065">List[j+1] = List[j] (List[9] = List[8])</text>
<text class="t c" x="1274" y="1084">CorrectIndex = j = 8</text>
<g id="i9-r2" transform="translate(1031,1108)"><use href="#grid"/><use href="#idx"/><rect class="hg" x="290.28" y="8" width="21.6" height="16"/><text class="v" y="20.3"><tspan x="15.85">1</tspan><tspan x="47.54">2</tspan><tspan x="79.23">3</tspan><tspan x="110.92">21</tspan><tspan x="142.62">46</tspan><tspan x="174.31">56</tspan><tspan x="206">78</tspan><tspan x="237.69">100</tspan><tspan x="269.38">209</tspan><tspan x="301.08">209</tspan><tspan x="332.77">12</tspan><tspan x="364.46">15</tspan><tspan x="396.15">51</tspan></text></g>
<rect class="hy" x="1349" y="1155" width="16.3" height="18"/>
<text class="t e" x="1349" y="1169">j = 7 <tspan class="i">and</tspan> List[j] &gt; temp (100 &gt; </text>
<text class="t" x="1349" y="1169">10 ) <tspan class="ar">→</tspan></text>
<text class="t c" x="1277.5" y="1189">List[j+1] = List[j] (List[8] = List[7])</text>
<text class="t c" x="1277" y="1207">CorrectIndex = j = 7</text>
<g id="i9-r3" transform="translate(1031,1236)"><use href="#grid"/><use href="#idx"/><rect class="hg" x="258.58" y="8" width="21.6" height="16"/><text class="v" y="20.3"><tspan x="15.85">1</tspan><tspan x="47.54">2</tspan><tspan x="79.23">3</tspan><tspan x="110.92">21</tspan><tspan x="142.62">46</tspan><tspan x="174.31">56</tspan><tspan x="206">78</tspan><tspan x="237.69">100</tspan><tspan x="269.38">100</tspan><tspan x="301.08">209</tspan><tspan x="332.77">12</tspan><tspan x="364.46">15</tspan><tspan x="396.15">51</tspan></text></g>
<rect class="hy" x="1340.3" y="1282" width="16.3" height="18"/>
<text class="t e" x="1340.3" y="1296">j = 6 <tspan class="i">and</tspan> List[j] &gt; temp (78 &gt; </text>
<text class="t" x="1340.3" y="1296">10 ) <tspan class="ar">→</tspan></text>
<text class="t c" x="1274" y="1315">List[j+1] = List[j] (List[7] = List[6])</text>
<text class="t c" x="1273" y="1334">CorrectIndex = j = 6</text>
<g id="i9-r4" transform="translate(1032,1366)"><use href="#grid"/><use href="#idx"/><rect class="hg" x="230.19" y="8" width="15" height="16"/><text class="v" y="20.3"><tspan x="15.85">1</tspan><tspan x="47.54">2</tspan><tspan x="79.23">3</tspan><tspan x="110.92">21</tspan><tspan x="142.62">46</tspan><tspan x="174.31">56</tspan><tspan x="206">78</tspan><tspan x="237.69">78</tspan><tspan x="269.38">100</tspan><tspan x="301.08">209</tspan><tspan x="332.77">12</tspan><tspan x="364.46">15</tspan><tspan x="396.15">51</tspan></text></g>
<rect class="hy" x="1339.7" y="1414" width="16.3" height="18"/>
<text class="t e" x="1339.7" y="1428">j = 5 <tspan class="i">and</tspan> List[j] &gt; temp (56 &gt; </text>
<text class="t" x="1339.7" y="1428">10 ) <tspan class="ar">→</tspan></text>
<text class="t c" x="1273" y="1448">List[j+1] = List[j] (List[6] = List[5])</text>
<text class="t c" x="1272" y="1466">CorrectIndex = j = 5</text>
<g id="i9-r5" transform="translate(1032,1492)"><use href="#grid"/><use href="#idx"/><rect class="hg" x="198.5" y="8" width="15" height="16"/><text class="v" y="20.3"><tspan x="15.85">1</tspan><tspan x="47.54">2</tspan><tspan x="79.23">3</tspan><tspan x="110.92">21</tspan><tspan x="142.62">46</tspan><tspan x="174.31">56</tspan><tspan x="206">56</tspan><tspan x="237.69">78</tspan><tspan x="269.38">100</tspan><tspan x="301.08">209</tspan><tspan x="332.77">12</tspan><tspan x="364.46">15</tspan><tspan x="396.15">51</tspan></text></g>
<rect class="hy" x="1341" y="1539" width="16.3" height="18"/>
<text class="t e" x="1341" y="1553">j = 4 <tspan class="i">and</tspan> List[j] &gt; temp (46 &gt; </text>
<text class="t" x="1341" y="1553">10 ) <tspan class="ar">→</tspan></text>
<text class="t c" x="1274" y="1572">List[j+1] = List[j] (List[5] = List[4])</text>
<text class="t c" x="1273" y="1591">CorrectIndex = j = 4</text>
<g id="i9-r6" transform="translate(1031,1614)"><use href="#grid"/><use href="#idx"/><rect class="hg" x="166.81" y="8" width="15" height="16"/><text class="v" y="20.3"><tspan x="15.85">1</tspan><tspan x="47.54">2</tspan><tspan x="79.23">3</tspan><tspan x="110.92">21</tspan><tspan x="142.62">46</tspan><tspan x="174.31">46</tspan><tspan x="206">56</tspan><tspan x="237.69">78</tspan><tspan x="269.38">100</tspan><tspan x="301.08">209</tspan><tspan x="332.77">12</tspan><tspan x="364.46">15</tspan><tspan x="396.15">51</tspan></text></g>
<rect class="hy" x="1337.7" y="1660" width="16.3" height="18"/>
<text class="t e" x="1337.7" y="1674">j = 3 <tspan class="i">and</tspan> List[j] &gt; temp (21 &gt; </text>
<text class="t" x="1337.7" y="1674">10 ) <tspan class="ar">→</tspan></text>
<text class="t c" x="1270" y="1693">List[j+1] = List[j] (List[4] = List[3])</text>
<text class="t c" x="1270" y="1712">CorrectIndex = j = 3</text>
<g id="i9-r7" transform="translate(1032,1738)"><use href="#grid"/><use href="#idx"/><rect class="hg" x="135.12" y="8" width="15" height="16"/><text class="v" y="20.3"><tspan x="15.85">1</tspan><tspan x="47.54">2</tspan><tspan x="79.23">3</tspan><tspan x="110.92">21</tspan><tspan x="142.62">21</tspan><tspan x="174.31">46</tspan><tspan x="206">56</tspan><tspan x="237.69">78</tspan><tspan x="269.38">100</tspan><tspan x="301.08">209</tspan><tspan x="332.77">12</tspan><tspan x="364.46">15</tspan><tspan x="396.15">51</tspan></text></g>
<rect class="hy" x="1331.7" y="1782" width="16.3" height="18"/>
<text class="t e" x="1331.7" y="1796">j = 2 <tspan class="i">and</tspan> List[j] &lt; temp (3 &lt; </text>
<text class="t" x="1331.7" y="1796">10 ) <tspan class="ar">→</tspan></text>
<text class="t c b" x="1268" y="1815">STOP</text>
<text class="t c" x="1269" y="1834">List[CorrectIndex = 3] = temp = 10</text>
<g id="i9-r8" transform="translate(1032,1861)"><use href="#grid"/><use href="#idx"/><rect class="hy" x="103.42" y="8" width="15" height="16"/><text class="v" y="20.3"><tspan x="15.85">1</tspan><tspan x="47.54">2</tspan><tspan x="79.23">3</tspan><tspan x="110.92">10</tspan><tspan x="142.62">21</tspan><tspan x="174.31">46</tspan><tspan x="206">56</tspan><tspan x="237.69">78</tspan><tspan x="269.38">100</tspan><tspan x="301.08">209</tspan><tspan x="332.77">12</tspan><tspan x="364.46">15</tspan><tspan x="396.15">51</tspan></text></g>
</g>
</svg>
